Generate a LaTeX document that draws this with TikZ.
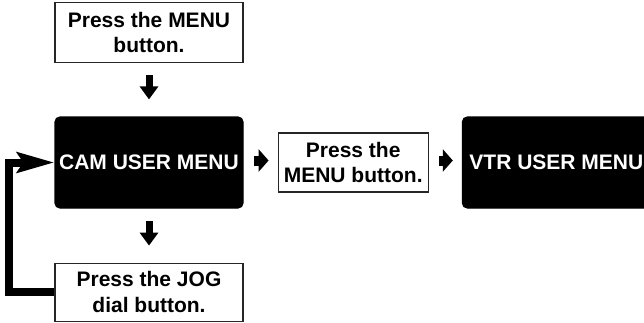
\documentclass[tikz,border=0pt]{standalone}
\usepackage{fontspec}
\setmainfont{Liberation Sans}
\usetikzlibrary{arrows.meta,positioning}

\begin{document}
\begin{tikzpicture}[x=1pt, y=1pt, node distance=34pt,
  block/.style={draw=black!85, line width=1.2pt, minimum width=188pt,
    inner sep=0pt, align=center, font=\bfseries\fontsize{21}{25.5}\selectfont},
  press/.style={block, fill=white, minimum height=59pt},
  screen/.style={block, fill=black, text=white, draw=black,
    minimum height=91pt, rounded corners=5pt},
  downarr/.style={line width=7pt, -{Triangle[length=13pt,width=18pt]},
    shorten <=12pt, shorten >=17pt},
  rightarr/.style={line width=10pt, -{Triangle[length=10pt,width=22pt]},
    shorten <=10pt, shorten >=9pt},
  backarr/.style={line width=8pt, line join=miter,
    -{Stealth[length=37pt,width=20pt,inset=6pt]}}
]
\useasboundingbox (0,0) rectangle (644,322);

% Middle row: menus
\node[screen] (cam) at (149,159.5) {CAM USER MENU};
\node[press, minimum width=150pt, right=of cam] (menubtn) {Press the\\MENU button.};
\node[screen, right=33pt of menubtn] (vtr) {VTR USER MENU};

% Column: buttons
\node[press, minimum height=60pt, above=53.5pt of cam] (menu) {Press the MENU\\button.};
\node[press, minimum height=58pt, below=54pt of cam] (jog) {Press the JOG\\dial button.};

\draw[downarr] (menu) -- (cam);
\draw[downarr] (cam) -- (jog);
\draw[rightarr] ([yshift=2pt]cam.east) -- ([yshift=2pt]menubtn.west);
\draw[rightarr] ([yshift=2pt]menubtn.east) -- ([yshift=2pt]vtr.west);

% Return to CAM USER MENU
\draw[backarr] (jog.west) -- ++(-45pt,0) |- (cam.west);
\end{tikzpicture}
\end{document}
